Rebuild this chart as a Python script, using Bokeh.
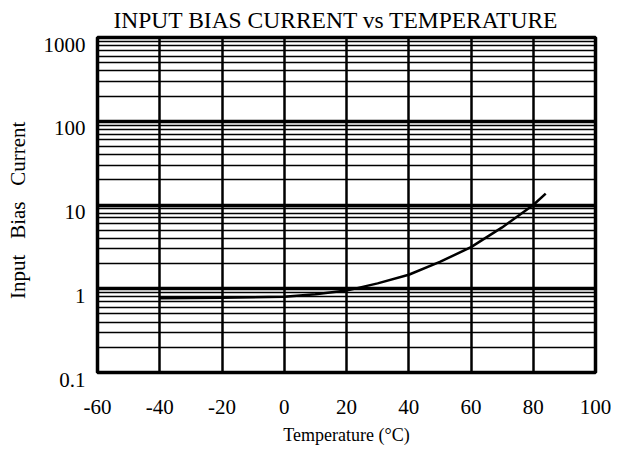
from bokeh.plotting import figure
from bokeh.models import FixedTicker, CustomJSTickFormatter, Range1d
from bokeh.embed import file_html
from bokeh.resources import INLINE

# data
temperature = [-40, -20, 0, 10, 20, 30, 40, 50, 60, 70, 80, 84]
bias_current = [0.77, 0.78, 0.80, 0.86, 0.95, 1.16, 1.47, 2.09, 3.14, 5.4, 10.0, 13.7]

x_ticks = [-60, -40, -20, 0, 20, 40, 60, 80, 100]
y_ticks = [0.1, 1, 10, 100, 1000]

FONT = "Liberation Serif"

minor = []
for d in y_ticks[:-1]:
    for k in range(2, 10):
        minor.append(d * k)

p = figure(width=611, height=447, output_backend="svg", toolbar_location=None,
           y_axis_type="log", x_range=Range1d(-60, 100), y_range=Range1d(0.1, 1000),
           min_border_left=97, min_border_right=16, min_border_top=35, min_border_bottom=74)

p.title.text = "INPUT BIAS CURRENT vs TEMPERATURE"
p.title.align = "left"
p.title.offset = 16
p.title.text_font = FONT
p.title.text_font_size = "23.5px"
p.title.text_font_style = "normal"
p.title.text_color = "black"
p.title.standoff = 9

p.xaxis.ticker = FixedTicker(ticks=x_ticks)
p.xaxis.formatter = CustomJSTickFormatter(code="return tick.toString();")
p.yaxis.ticker = FixedTicker(ticks=y_ticks, minor_ticks=minor)
# empty first line nudges each label just below its gridline, as in the original
p.yaxis.formatter = CustomJSTickFormatter(code="return '\\n' + tick.toString();")
p.yaxis.major_label_text_line_height = 0.6

for ax in (p.xaxis, p.yaxis):
    ax.major_tick_in = 0
    ax.major_tick_out = 0
    ax.minor_tick_in = 0
    ax.minor_tick_out = 0
    ax.axis_line_color = None
    ax.major_label_text_font = FONT
    ax.major_label_text_font_size = "21px"
    ax.major_label_text_color = "black"
    ax.axis_label_text_font = FONT
    ax.axis_label_text_font_style = "normal"
    ax.axis_label_text_color = "black"

p.xaxis.axis_label = "Temperature (°C)"
p.xaxis.axis_label_text_font_size = "18px"
p.xaxis.major_label_standoff = 27
p.xaxis.axis_label_standoff = 8

p.yaxis.axis_label = "Input\u00a0\u00a0\u00a0Bias\u00a0\u00a0\u00a0Current\u00a0\u00a0"
p.yaxis.axis_label_text_font_size = "21px"
p.yaxis.major_label_standoff = 12
p.yaxis.axis_label_standoff = 11

p.xgrid.grid_line_color = "black"
p.xgrid.grid_line_width = 2.5
p.ygrid.grid_line_color = "black"
p.ygrid.grid_line_width = 3.5
p.ygrid.minor_grid_line_color = "black"
p.ygrid.minor_grid_line_width = 1.5

p.outline_line_color = "black"
p.outline_line_width = 3.5

p.line(temperature, bias_current, line_color="black", line_width=2.5)

open("out.html", "w").write(file_html(p, INLINE))
